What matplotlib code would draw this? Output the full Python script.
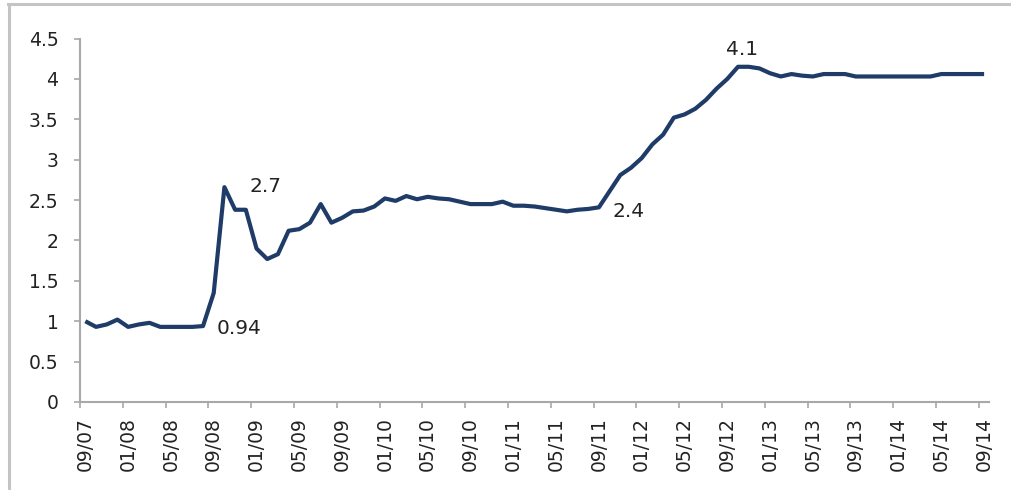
import numpy as np
import matplotlib
matplotlib.use("Agg")
import matplotlib.pyplot as plt
from matplotlib.lines import Line2D

# monthly values, 09/07 .. 09/14
values = [1.00, 0.93, 0.96, 1.02, 0.93, 0.96, 0.98, 0.93, 0.93, 0.93,
          0.93, 0.94, 1.35, 2.66, 2.38, 2.38, 1.90, 1.77, 1.83, 2.12,
          2.14, 2.22, 2.45, 2.22, 2.28, 2.36, 2.37, 2.42, 2.52, 2.49,
          2.55, 2.51, 2.54, 2.52, 2.51, 2.48, 2.45, 2.45, 2.45, 2.48,
          2.43, 2.43, 2.42, 2.40, 2.38, 2.36, 2.38, 2.39, 2.41, 2.61,
          2.81, 2.90, 3.02, 3.19, 3.31, 3.52, 3.56, 3.63, 3.74, 3.88,
          4.00, 4.15, 4.15, 4.13, 4.07, 4.03, 4.06, 4.04, 4.03, 4.06,
          4.06, 4.06, 4.03, 4.03, 4.03, 4.03, 4.03, 4.03, 4.03, 4.03,
          4.06, 4.06, 4.06, 4.06, 4.06]

tick_labels = ["09/07", "01/08", "05/08", "09/08", "01/09", "05/09", "09/09",
               "01/10", "05/10", "09/10", "01/11", "05/11", "09/11", "01/12",
               "05/12", "09/12", "01/13", "05/13", "09/13", "01/14", "05/14",
               "09/14"]

# annotated points: index into values, label text
note_idx = [11, 13, 48, 61]
note_text = ["0.94", "2.7", "2.4", "4.1"]
note_off = [(10, -1.5), (18, 0.5), (10, -3), (3, 12.5)]
note_ha = ["left", "left", "left", "center"]

x = np.arange(len(values))

fig = plt.figure(figsize=(10.11, 4.9), dpi=100)
ax = fig.add_axes([0.0791, 0.1796, 0.8996, 0.7418])

ax.plot(x, values, color="#1F3B68", lw=3.0, solid_joinstyle="round",
        solid_capstyle="butt", zorder=3)

for i, t, off, ha in zip(note_idx, note_text, note_off, note_ha):
    ax.annotate(t, (x[i], values[i]), xytext=off, textcoords="offset points",
                ha=ha, va="center", fontsize=14.5, color="#222222")

ax.set_xlim(-0.5, len(values) - 0.5)
ax.set_ylim(0, 4.5)
ax.set_yticks(np.arange(0, 4.51, 0.5))
ax.set_yticklabels(["0", "0.5", "1", "1.5", "2", "2.5", "3", "3.5", "4", "4.5"])

# tick marks at category boundaries, labels at category centres
ax.set_xticks(np.arange(-0.5, len(values) - 1, 4))
ax.set_xticklabels([])
ax.set_xticks(np.arange(0, len(values), 4), minor=True)
ax.set_xticklabels(tick_labels, minor=True, rotation=90)
ax.tick_params(axis="x", which="minor", length=0, pad=11, labelsize=13.5,
               labelcolor="#222222")
ax.tick_params(axis="x", which="major", length=4.5, width=1.2, color="#a8a8a8",
               direction="out")
ax.tick_params(axis="y", length=4.5, width=1.2, color="#a8a8a8", pad=11,
               labelsize=13.5, labelcolor="#222222")

for s in ["top", "right"]:
    ax.spines[s].set_visible(False)
for s in ["left", "bottom"]:
    ax.spines[s].set_color("#a8a8a8")
    ax.spines[s].set_linewidth(1.5)

# grey frame round the picture (top and left edges)
fig.add_artist(Line2D([0.008, 1.0], [0.992, 0.992], transform=fig.transFigure,
                      color="#c4c4c4", lw=2.2))
fig.add_artist(Line2D([0.009, 0.009], [0.0, 0.992], transform=fig.transFigure,
                      color="#c4c4c4", lw=2.2))

fig.savefig("out.png", dpi=100)
